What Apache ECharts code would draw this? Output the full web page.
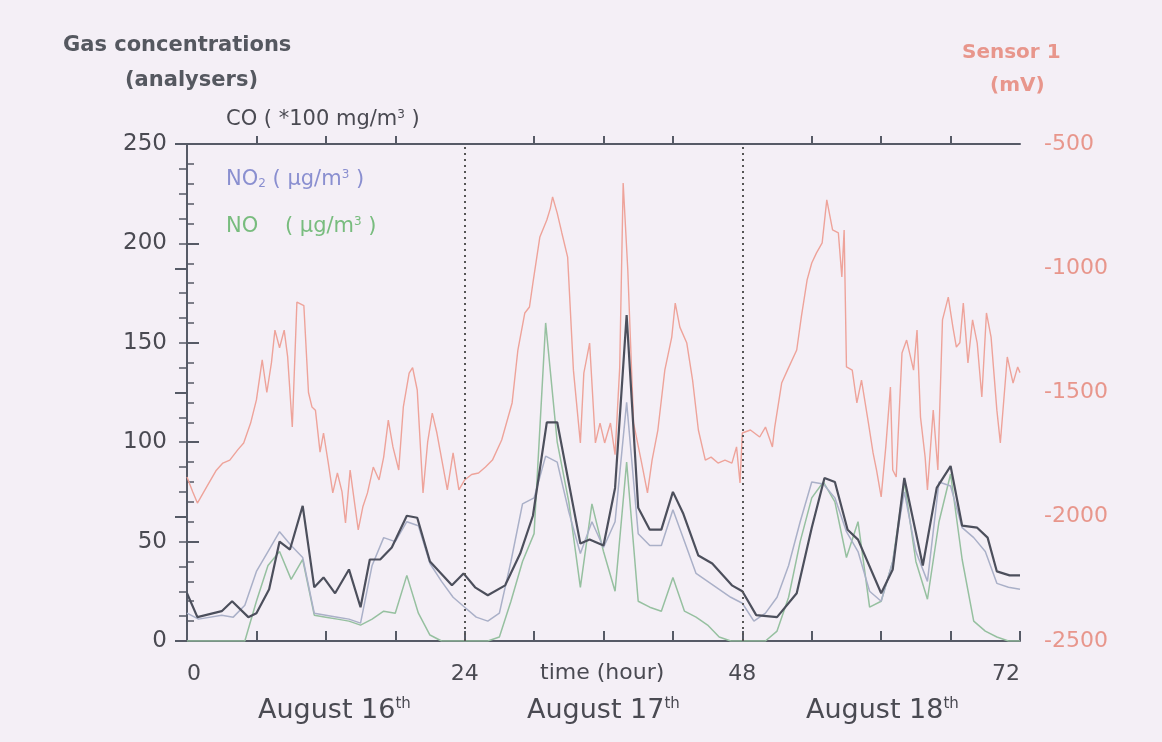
<!DOCTYPE html>
<html>
<head>
<meta charset="utf-8">
<script src="https://cdn.jsdelivr.net/npm/echarts@6/dist/echarts.min.js"></script>
<style>
html,body{margin:0;padding:0;background:#f4eff6;}
#c{width:1162px;height:742px;}
</style>
</head>
<body>
<div id="c"></div>
<script>
// ---- data ----
var xTickLabels = ['0', '24', '48', '72'];
var dayLabels = ['August 16', 'August 17', 'August 18'];

var coHours = [0,0.9,3,3.9,5.3,6,7.1,8,8.9,10,11,11.8,12.8,14,15,15.8,16.7,17.7,19,19.9,21,22.9,23.9,24.9,26,27.5,28.8,29.9,31.1,32,34,34.8,36,37,38,39,40,41,42,42.9,44.2,45.4,47.1,48,49.2,51,52.7,54,55.1,56,57.1,58,60,61,62,63.6,64.8,66,67,68.3,69.2,70,71.1,72];
var coValues = [24,12,15,20,12,14,26,50,46,68,27,32,24,36,17,41,41,47,63,62,40,28,34,27,23,28,44,63,110,110,49,51,48,77,164,67,56,56,75,64,43,39,28,25,13,12,24,57,82,80,56,51,24,36,82,38,77,88,58,57,52,35,33,33];

var no2Hours = [0,1,3,4,5,6,7,8,9,10,11,12,13,14,15,16,17,18,19,20,21,22,23,24,25,26,27,28,29,30,31,32,33,34,35,36,37,38,39,40,41,42,43,44,45,46,47,48,49,50,51,52,53,54,55,56,57,58,59,60,61,62,63,64,65,66,67,68,69,70,71,72];
var no2Values = [14,11,13,12,18,35,45,55,48,42,14,13,12,11,9,38,52,50,60,58,39,30,22,17,12,10,14,40,69,72,93,90,65,44,60,47,60,120,54,48,48,66,50,34,30,26,22,19,10,14,22,38,60,80,79,72,55,45,25,20,40,75,45,30,80,78,57,52,45,29,27,26];

var noHours = [0,5,6,7,8,9,10,11,12,13,14,15,16,17,18,19,20,21,22,26,27,28,29,30,31,32,33,34,35,36,37,38,39,40,41,42,43,44,45,46,47,50,51,52,53,54,55,56,57,58,59,60,61,62,63,64,65,66,67,68,69,70,71,72];
var noValues = [0,0,20,38,45,31,41,13,12,11,10,8,11,15,14,33,14,3,0,0,2,20,40,54,160,100,70,27,69,45,25,90,20,17,15,32,15,12,8,2,0,0,5,22,50,72,80,70,42,60,17,20,40,80,40,21,60,84,41,10,5,2,0,0];

var sensorHours = [0,0.5,0.9,1.7,2.5,3.1,3.7,4.4,4.9,5.5,6,6.5,6.9,7.3,7.6,8,8.4,8.7,9.1,9.5,10.1,10.5,10.8,11.1,11.5,11.8,12.2,12.6,13,13.4,13.7,14.1,14.5,14.8,15.2,15.6,16.1,16.6,17,17.4,17.8,18.3,18.7,19.2,19.5,19.9,20.4,20.8,21.2,21.6,22.1,22.5,23,23.5,24,24.6,25.2,25.8,26.4,27.2,28.1,28.6,29.2,29.6,29.9,30.5,31.1,31.4,31.6,32,32.4,32.9,33.4,34,34.3,34.8,35.3,35.7,36.1,36.6,37,37.4,37.7,38.1,38.6,39.3,39.8,40.2,40.7,41.3,41.9,42.2,42.6,43.2,43.7,44.2,44.8,45.3,45.9,46.5,47.1,47.5,47.8,48,48.7,49.5,50,50.6,50.8,51.4,51.9,52.7,53.1,53.6,54,54.4,54.9,55.3,55.8,56.3,56.6,56.8,57,57.5,57.9,58.3,58.9,59.3,59.6,60,60.4,60.8,61,61.3,61.8,62.2,62.8,63.1,63.4,63.8,64,64.5,64.9,65.3,65.8,66.2,66.5,66.8,67.1,67.5,67.9,68.3,68.7,69.1,69.5,70,70.3,70.9,71.4,71.8,72];
var sensorValues = [-1840,-1900,-1945,-1880,-1815,-1784,-1772,-1730,-1703,-1623,-1530,-1369,-1500,-1380,-1249,-1320,-1249,-1357,-1639,-1136,-1150,-1500,-1558,-1571,-1740,-1663,-1780,-1904,-1824,-1900,-2025,-1812,-1950,-2053,-1960,-1904,-1800,-1852,-1760,-1611,-1719,-1812,-1558,-1422,-1400,-1490,-1904,-1700,-1583,-1663,-1790,-1892,-1743,-1892,-1852,-1830,-1824,-1800,-1772,-1691,-1542,-1329,-1180,-1156,-1059,-874,-806,-760,-713,-778,-858,-955,-1410,-1703,-1422,-1301,-1703,-1623,-1703,-1623,-1750,-1400,-657,-1007,-1623,-1784,-1904,-1772,-1651,-1410,-1277,-1140,-1237,-1301,-1450,-1651,-1772,-1760,-1784,-1772,-1784,-1719,-1864,-1663,-1651,-1679,-1639,-1719,-1639,-1462,-1410,-1329,-1196,-1047,-979,-939,-898,-725,-846,-858,-1035,-846,-1397,-1410,-1542,-1450,-1623,-1743,-1812,-1920,-1719,-1478,-1812,-1840,-1341,-1289,-1410,-1249,-1599,-1760,-1892,-1571,-1812,-1208,-1116,-1237,-1317,-1300,-1140,-1381,-1208,-1301,-1518,-1180,-1277,-1571,-1703,-1357,-1462,-1397,-1420];

function zip(a, b) { return a.map(function (v, i) { return [v, b[i]]; }); }

var AX = '#565a66';
var TXT = '#4a4a52';
var SALMON = '#e8968c';
var BLUE = '#8a8fd0';
var GREEN = '#78bc7e';
var FONT = 'DejaVu Sans';

function dayText(label, x) {
  return { type: 'text', left: x, top: 697, style: {
    text: '{n|' + label + '}{s|th}',
    rich: {
      n: { fontSize: 27, fontFamily: FONT, fill: TXT },
      s: { fontSize: 15, fontFamily: FONT, fill: TXT, verticalAlign: 'top' }
    } } };
}

var chart = echarts.init(document.getElementById('c'), null, { renderer: 'canvas' });
chart.setOption({
  backgroundColor: '#f4eff6',
  animation: false,
  grid: { left: 187, right: 142, top: 144, bottom: 101 },
  xAxis: [{
    type: 'value', min: 0, max: 72, interval: 24, position: 'bottom',
    axisLine: { show: true, lineStyle: { color: AX, width: 2 } },
    axisTick: { show: true, inside: true, length: 10, lineStyle: { color: AX, width: 2 } },
    minorTick: { show: true, splitNumber: 4, length: 10, lineStyle: { color: AX, width: 2 } },
    splitLine: { show: false },
    axisLabel: {
      color: TXT, fontSize: 22, fontFamily: FONT, margin: 22,
      alignMinLabel: 'left', alignMaxLabel: 'right',
      formatter: function (v) { return xTickLabels[v / 24]; }
    }
  }, {
    type: 'value', min: 0, max: 72, interval: 24, position: 'top',
    axisLine: { show: true, lineStyle: { color: AX, width: 2 } },
    axisTick: { show: false },
    minorTick: { show: true, splitNumber: 4, length: 8, lineStyle: { color: AX, width: 2 } },
    splitLine: { show: false },
    axisLabel: { show: false }
  }],
  yAxis: [{
    type: 'value', min: 0, max: 250, interval: 50, position: 'left',
    axisLine: { show: true, lineStyle: { color: AX, width: 2 } },
    axisTick: { show: true, inside: true, length: 12, lineStyle: { color: AX, width: 2 } },
    minorTick: { show: true, splitNumber: 5, length: 7, lineStyle: { color: AX, width: 1.5 } },
    splitLine: { show: false },
    axisLabel: { color: TXT, fontSize: 23, fontFamily: FONT, margin: 20 }
  }, {
    type: 'value', min: -2500, max: -500, interval: 500, position: 'right',
    axisLine: { show: true, lineStyle: { color: AX, width: 2 } },
    axisTick: { show: true, inside: true, length: 12, lineStyle: { color: AX, width: 2 } },
    minorTick: { show: true, splitNumber: 5, length: 8, lineStyle: { color: AX, width: 1.5 } },
    splitLine: { show: false },
    axisLabel: { color: SALMON, fontSize: 22, fontFamily: FONT, margin: 24,
      formatter: function (v) { return String(v); } }
  }],
  series: [{
    name: 'Sensor 1', type: 'line', yAxisIndex: 1, data: zip(sensorHours, sensorValues),
    showSymbol: false, symbol: 'none', lineStyle: { color: '#eea39a', width: 1.4 },
    markLine: {
      silent: true, symbol: 'none', label: { show: false },
      lineStyle: { color: '#555', type: [2, 4], width: 2 },
      data: [{ xAxis: 24 }, { xAxis: 48 }]
    }
  }, {
    name: 'NO', type: 'line', data: zip(noHours, noValues),
    showSymbol: false, symbol: 'none', lineStyle: { color: '#96c0a0', width: 1.5 }
  }, {
    name: 'NO2', type: 'line', data: zip(no2Hours, no2Values),
    showSymbol: false, symbol: 'none', lineStyle: { color: '#aab0c8', width: 1.5 }
  }, {
    name: 'CO', type: 'line', data: zip(coHours, coValues),
    showSymbol: false, symbol: 'none', lineStyle: { color: '#4c4f5c', width: 2.2 }
  }],
  graphic: [
    { type: 'text', left: 63, top: 35, style: { text: 'Gas concentrations', fill: '#555860', font: 'bold 21px "DejaVu Sans"' } },
    { type: 'text', left: 125, top: 70, style: { text: '(analysers)', fill: '#555860', font: 'bold 21px "DejaVu Sans"' } },
    { type: 'text', left: 226, top: 109, style: {
      text: '{n|CO ( *100 mg/m}{s|3}{n| )}',
      rich: { n: { fontSize: 21, fontFamily: FONT, fill: TXT }, s: { fontSize: 12, fontFamily: FONT, fill: TXT, verticalAlign: 'top' } } } },
    { type: 'text', left: 226, top: 169, style: {
      text: '{n|NO}{b|2}{n| ( µg/m}{s|3}{n| )}',
      rich: { n: { fontSize: 21, fontFamily: FONT, fill: BLUE }, b: { fontSize: 12, fontFamily: FONT, fill: BLUE, verticalAlign: 'bottom' }, s: { fontSize: 12, fontFamily: FONT, fill: BLUE, verticalAlign: 'top' } } } },
    { type: 'text', left: 226, top: 216, style: {
      text: '{n|NO    ( µg/m}{s|3}{n| )}',
      rich: { n: { fontSize: 21, fontFamily: FONT, fill: GREEN }, s: { fontSize: 12, fontFamily: FONT, fill: GREEN, verticalAlign: 'top' } } } },
    { type: 'text', left: 962, top: 43, style: { text: 'Sensor 1', fill: SALMON, font: 'bold 20px "DejaVu Sans"' } },
    { type: 'text', left: 990, top: 76, style: { text: '(mV)', fill: SALMON, font: 'bold 20px "DejaVu Sans"' } },
    { type: 'text', left: 540, top: 662, style: { text: 'time (hour)', fill: TXT, font: '22px "DejaVu Sans"' } },
    dayText(dayLabels[0], 258),
    dayText(dayLabels[1], 527),
    dayText(dayLabels[2], 806)
  ]
});
</script>
</body>
</html>
